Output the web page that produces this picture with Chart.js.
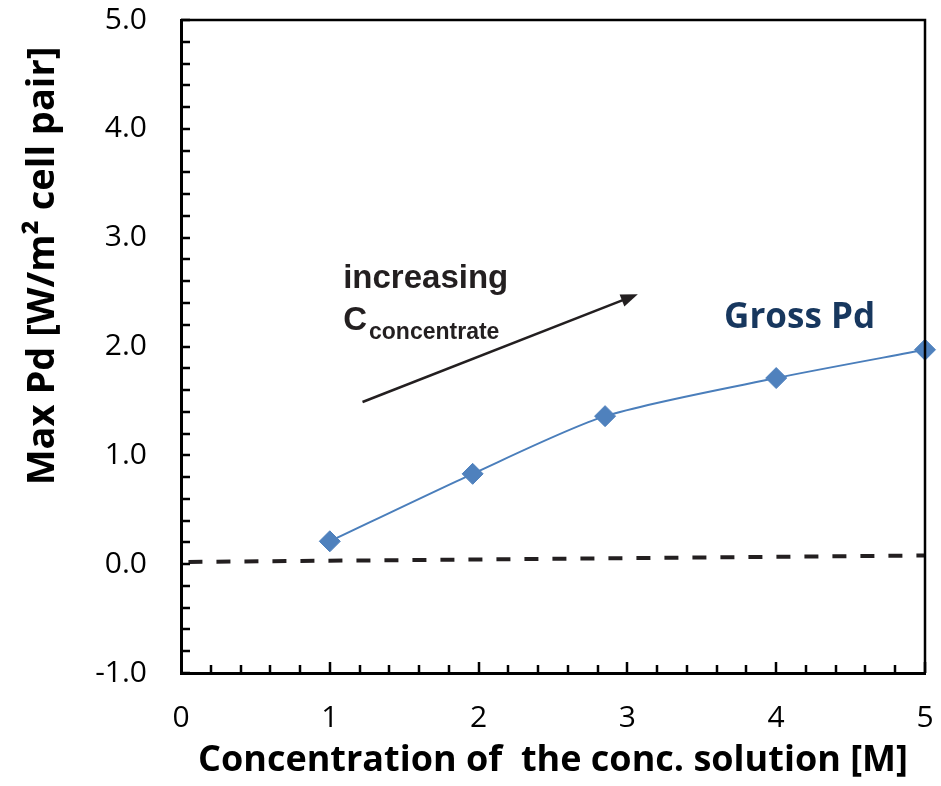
<!DOCTYPE html>
<html>
<head>
<meta charset="utf-8">
<script src="https://cdn.jsdelivr.net/npm/chart.js@4.4.1/dist/chart.umd.min.js"></script>
<style>
  html, body { margin: 0; padding: 0; background: #fff; }
  #wrap { width: 941px; height: 786px; }
</style>
</head>
<body>
<div id="wrap"><canvas id="chart" width="941" height="786"></canvas></div>
<script>
// Gross Pd measurements (concentration in M, power density in W/m2 cell pair)
const grossX = [1.0, 1.96, 2.85, 4.0, 5.0];
const grossY = [0.21, 0.83, 1.36, 1.71, 1.97];

// dashed reference line (ends only)
const dashX = [0.05, 5];
const dashY = [0.02, 0.08];

// arrow, in data units: [x, y] tail then head
const arrowTail = [1.22, 1.49];
const arrowHead = [3.07, 2.48];

const yTickValues = [-1, 0, 1, 2, 3, 4, 5];
const xTickValues = [0, 1, 2, 3, 4, 5];

const yTitle = 'Max Pd [W/m\u00B2 cell pair]';

const toPts = (xs, ys) => xs.map((x, i) => ({ x: x, y: ys[i] }));

// frame, inward minor ticks, arrow and the text labels
const decorPlugin = {
    id: 'decor',
    afterDraw(chart) {
        const ctx = chart.ctx;
        const a = chart.chartArea;
        const xs = chart.scales.x;
        const ys = chart.scales.y;
        ctx.save();

        // top and right frame
        ctx.strokeStyle = '#000';
        ctx.lineWidth = 2.5;
        ctx.beginPath();
        ctx.moveTo(a.left, a.top);
        ctx.lineTo(a.right, a.top);
        ctx.lineTo(a.right, a.bottom);
        ctx.stroke();

        // inward ticks every 0.2
        ctx.lineWidth = 2.5;
        ctx.beginPath();
        for (let i = 0; i <= 30; i++) {
            const v = -1 + i * 0.2;
            const py = Math.round(ys.getPixelForValue(v));
            ctx.moveTo(a.left, py);
            ctx.lineTo(a.left + 9, py);
        }
        for (let i = 1; i <= 25; i++) {
            const v = i * 0.2;
            const px = Math.round(xs.getPixelForValue(v));
            const len = (i % 5 === 0) ? 11 : 8;
            ctx.moveTo(px, a.bottom);
            ctx.lineTo(px, a.bottom - len);
        }
        ctx.stroke();

        // y axis title (sits above the middle of the axis in the original)
        ctx.save();
        ctx.translate(43, ys.getPixelForValue(2.74));
        ctx.rotate(-Math.PI / 2);
        ctx.fillStyle = '#000';
        ctx.textAlign = 'center';
        ctx.textBaseline = 'middle';
        ctx.font = 'bold 38px "Open Sans", Lato, sans-serif';
        ctx.fillText(yTitle, 0, 0);
        ctx.restore();

        // arrow
        const x1 = xs.getPixelForValue(arrowTail[0]), y1 = ys.getPixelForValue(arrowTail[1]);
        const x2 = xs.getPixelForValue(arrowHead[0]), y2 = ys.getPixelForValue(arrowHead[1]);
        const ang = Math.atan2(y2 - y1, x2 - x1);
        ctx.strokeStyle = '#231f20';
        ctx.fillStyle = '#231f20';
        ctx.lineWidth = 2.5;
        ctx.beginPath();
        ctx.moveTo(x1, y1);
        ctx.lineTo(x2 - 12 * Math.cos(ang), y2 - 12 * Math.sin(ang));
        ctx.stroke();
        ctx.beginPath();
        ctx.moveTo(x2, y2);
        ctx.lineTo(x2 - 17 * Math.cos(ang) + 6.5 * Math.sin(ang), y2 - 17 * Math.sin(ang) - 6.5 * Math.cos(ang));
        ctx.lineTo(x2 - 17 * Math.cos(ang) - 6.5 * Math.sin(ang), y2 - 17 * Math.sin(ang) + 6.5 * Math.cos(ang));
        ctx.closePath();
        ctx.fill();

        // "increasing C_concentrate"
        ctx.textAlign = 'left';
        ctx.textBaseline = 'alphabetic';
        const tx = xs.getPixelForValue(1.09);
        ctx.font = 'bold 33px "Liberation Sans", Arial, sans-serif';
        ctx.fillText('increasing', tx, ys.getPixelForValue(2.54));
        const cy = ys.getPixelForValue(2.155);
        ctx.fillText('C', tx, cy);
        const cw = ctx.measureText('C').width;
        ctx.font = 'bold 23px "Liberation Sans", Arial, sans-serif';
        ctx.fillText('concentrate', tx + cw + 2, cy + 9);

        // series label
        ctx.fillStyle = '#17375e';
        ctx.font = 'bold 35px "Open Sans", Lato, sans-serif';
        ctx.fillText('Gross Pd', xs.getPixelForValue(3.65), ys.getPixelForValue(2.17));

        ctx.restore();
    }
};

new Chart(document.getElementById('chart'), {
    type: 'scatter',
    data: {
        datasets: [
            {
                label: 'baseline',
                data: toPts(dashX, dashY),
                showLine: true,
                borderColor: '#231f20',
                borderWidth: 4,
                borderDash: [14, 14],
                pointRadius: 0,
                fill: false
            },
            {
                label: 'Gross Pd',
                data: toPts(grossX, grossY),
                showLine: true,
                borderColor: '#4a7ebb',
                borderWidth: 2,
                tension: 0.25,
                pointStyle: 'rectRot',
                pointRadius: 10.5,
                pointHoverRadius: 10.5,
                pointBackgroundColor: '#4f81bd',
                pointBorderColor: '#4f81bd',
                pointBorderWidth: 1,
                fill: false
            }
        ]
    },
    options: {
        responsive: false,
        devicePixelRatio: 1,
        animation: false,
        clip: false,
        layout: { padding: { top: 20, right: 16, left: 0, bottom: 0 } },
        plugins: {
            legend: { display: false },
            tooltip: { enabled: false }
        },
        scales: {
            x: {
                type: 'linear',
                min: 0,
                max: 5,
                afterBuildTicks: (scale) => { scale.ticks = xTickValues.map(v => ({ value: v })); },
                afterFit: (scale) => {
                    scale.height = 113;
                    scale.paddingLeft = 0;
                    scale.paddingRight = 0;
                },
                grid: { display: false, drawTicks: false },
                border: { display: true, color: '#000', width: 3 },
                ticks: {
                    color: '#000',
                    padding: 27,
                    maxRotation: 0,
                    font: { family: '"Open Sans", Lato, sans-serif', size: 30 },
                    callback: (v) => String(v)
                },
                title: {
                    display: true,
                    text: 'Concentration of  the conc. solution [M]',
                    color: '#000',
                    padding: { top: 0, bottom: 4 },
                    font: { family: '"Open Sans", Lato, sans-serif', size: 36, weight: 'bold' }
                }
            },
            y: {
                type: 'linear',
                min: -1,
                max: 5,
                afterBuildTicks: (scale) => { scale.ticks = yTickValues.map(v => ({ value: v })); },
                afterFit: (scale) => {
                    scale.width = 181;
                    scale.paddingTop = 0;
                    scale.paddingBottom = 0;
                },
                grid: { display: false, drawTicks: false },
                border: { display: true, color: '#000', width: 3 },
                ticks: {
                    color: '#000',
                    padding: 34,
                    font: { family: '"Open Sans", Lato, sans-serif', size: 30 },
                    callback: (v) => Number(v).toFixed(1)
                },
                title: { display: false }
            }
        }
    },
    plugins: [decorPlugin]
});
</script>
</body>
</html>
